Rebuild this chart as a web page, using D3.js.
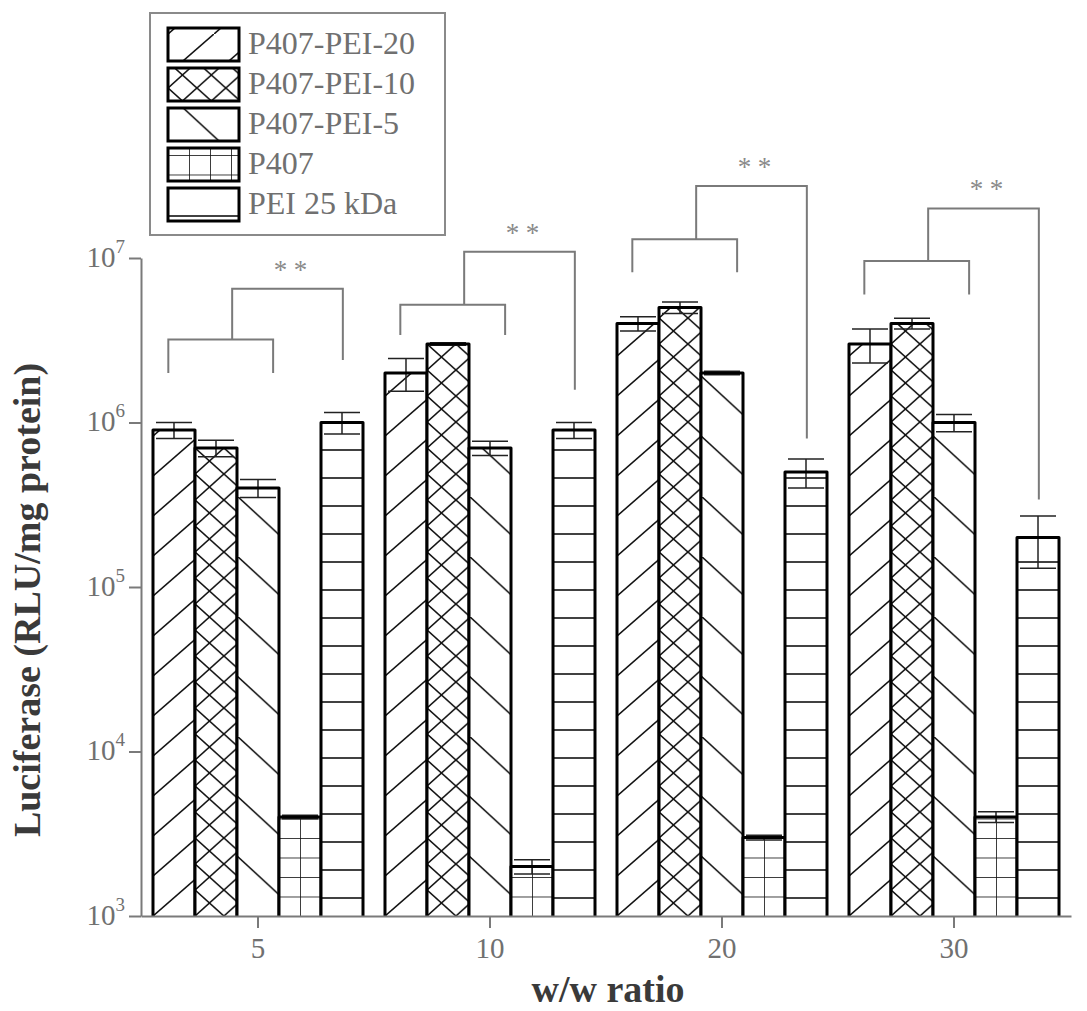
<!DOCTYPE html>
<html>
<head>
<meta charset="utf-8">
<script src="https://cdn.jsdelivr.net/npm/d3@7"></script>
<style>
  body { margin: 0; background: #fff; }
  text { font-family: "Liberation Serif", "Times New Roman", serif; }
</style>
</head>
<body>
<div id="chart"></div>
<script>
// w/w ratio groups and the five formulations
const ratios = ["5", "10", "20", "30"];
const seriesNames = ["P407-PEI-20", "P407-PEI-10", "P407-PEI-5", "P407", "PEI 25 kDa"];

// luciferase means (RLU/mg protein) and error (SD), one value per ratio
const pei20Mean = [9e5, 2e6, 4e6, 3e6];
const pei20Err  = [1e5, 4.5e5, 4e5, 7e5];
const pei10Mean = [7e5, 3e6, 5e6, 4e6];
const pei10Err  = [8e4, 5e4, 4e5, 3e5];
const pei5Mean  = [4e5, 7e5, 2e6, 1e6];
const pei5Err   = [5e4, 7e4, 5e4, 1.2e5];
const p407Mean  = [4e3, 2e3, 3e3, 4e3];
const p407Err   = [1e2, 2e2, 1e2, 3e2];
const peiMean   = [1e6, 9e5, 5e5, 2e5];
const peiErr    = [1.5e5, 1e5, 1e5, 7e4];

// significance brackets (levels in RLU/mg protein)
const lowerBracketLevel = [3.2e6, 5.2e6, 1.3e7, 9.6e6];
const lowerBracketEnd   = [2.0e6, 3.4e6, 8.2e6, 6.0e6];
const upperBracketLevel = [6.5e6, 1.09e7, 2.74e7, 2.0e7];
const upperBracketEnd   = [2.4e6, 1.58e6, 8.0e5, 3.4e5];
const sigLabel = "**";

const yTicks = [1e3, 1e4, 1e5, 1e6, 1e7];

const series = [
  {name: seriesNames[0], mean: pei20Mean, err: pei20Err},
  {name: seriesNames[1], mean: pei10Mean, err: pei10Err},
  {name: seriesNames[2], mean: pei5Mean,  err: pei5Err},
  {name: seriesNames[3], mean: p407Mean,  err: p407Err},
  {name: seriesNames[4], mean: peiMean,   err: peiErr}
];

const W = 1087, H = 1011;
const grey = "#7a7a7a";
const textGrey = "#707070";

const svg = d3.select("#chart").append("svg")
  .attr("width", W)
  .attr("height", H);

// scales
const x0 = d3.scaleBand()
  .domain(ratios)
  .range([141, 1071])
  .paddingInner(0.0948)
  .paddingOuter(0.0517);

const x1 = d3.scaleBand()
  .domain(seriesNames)
  .range([0, x0.bandwidth()]);

const y = d3.scaleLog()
  .domain([1e3, 1e7])
  .range([916, 258]);

const base = y(1e3);

// hatch patterns, anchored at each bar's bottom-left corner
const defs = svg.append("defs");

function diagPattern(id, vSpace, slope, dir, cross) {
  const w = vSpace / slope;
  const p = defs.append("pattern")
    .attr("id", id)
    .attr("patternUnits", "userSpaceOnUse")
    .attr("width", w)
    .attr("height", vSpace);
  const lines = [];
  if (dir === "up" || cross) lines.push([[-w, 2 * vSpace], [2 * w, -vSpace]]);
  if (dir === "down" || cross) lines.push([[-w, -vSpace], [2 * w, 2 * vSpace]]);
  lines.forEach(l => {
    p.append("line")
      .attr("x1", l[0][0]).attr("y1", l[0][1])
      .attr("x2", l[1][0]).attr("y2", l[1][1])
      .attr("stroke", "#111").attr("stroke-width", 1.6);
  });
}

diagPattern("pat0", 40, 0.87, "up", false);
diagPattern("pat1", 26, 0.9, "up", true);
diagPattern("pat2", 60, 0.92, "down", false);

// P407 grid
const grid = defs.append("pattern")
  .attr("id", "pat3")
  .attr("patternUnits", "userSpaceOnUse")
  .attr("width", x1.bandwidth() / 2)
  .attr("height", 19.5);
grid.append("line").attr("x1", 0).attr("x2", 0).attr("y1", 0).attr("y2", 19.5)
  .attr("stroke", "#111").attr("stroke-width", 1.6);
grid.append("line").attr("x1", 0).attr("x2", x1.bandwidth() / 2).attr("y1", 0).attr("y2", 0)
  .attr("stroke", "#111").attr("stroke-width", 1.6);

// PEI horizontal lines
const horiz = defs.append("pattern")
  .attr("id", "pat4")
  .attr("patternUnits", "userSpaceOnUse")
  .attr("width", 20)
  .attr("height", 28);
horiz.append("line").attr("x1", 0).attr("x2", 20).attr("y1", 10).attr("y2", 10)
  .attr("stroke", "#111").attr("stroke-width", 1.6);

// bars
const barGroups = svg.append("g").selectAll("g.ratio")
  .data(ratios)
  .enter().append("g")
  .attr("class", "ratio");

barGroups.each(function(r, gi) {
  const g = d3.select(this);
  series.forEach((s, si) => {
    const v = s.mean[gi];
    const e = s.err[gi];
    const bw = x1.bandwidth();
    const top = y(v) - base;
    const bar = g.append("g")
      .attr("transform", "translate(" + (x0(r) + x1(s.name)) + "," + base + ")");
    bar.append("rect")
      .attr("x", 0).attr("y", top)
      .attr("width", bw).attr("height", -top)
      .attr("fill", "#fff");
    bar.append("rect")
      .attr("x", 0).attr("y", top)
      .attr("width", bw).attr("height", -top)
      .attr("fill", "url(#pat" + si + ")");

    // error bar
    const cx = bw / 2;
    const yHi = y(v + e) - base, yLo = y(v - e) - base;
    bar.append("line")
      .attr("x1", cx).attr("x2", cx).attr("y1", yLo).attr("y2", yHi)
      .attr("stroke", "#222").attr("stroke-width", 1.5);
    [yHi, yLo].forEach(yy => {
      bar.append("line")
        .attr("x1", cx - 18).attr("x2", cx + 18).attr("y1", yy).attr("y2", yy)
        .attr("stroke", "#222").attr("stroke-width", 1.5);
    });

    bar.append("path")
      .attr("d", "M0,0V" + top + "H" + bw + "V0")
      .attr("fill", "none")
      .attr("stroke", "#000")
      .attr("stroke-width", 3)
      .attr("stroke-linejoin", "round");
  });
});

// axes
const yAxis = svg.append("g")
  .attr("transform", "translate(141,0)")
  .call(d3.axisLeft(y).tickValues(yTicks).tickFormat("").tickSize(12).tickSizeOuter(0));

const xAxis = svg.append("g")
  .attr("transform", "translate(0," + base + ")")
  .call(d3.axisBottom(x0).tickSize(12).tickSizeOuter(0));

[yAxis, xAxis].forEach(ax => {
  ax.selectAll("path, line").attr("stroke", grey).attr("stroke-width", 2);
});

xAxis.selectAll("text")
  .attr("dy", null)
  .attr("y", 42)
  .attr("fill", textGrey)
  .style("font-size", "29px")
  .style("font-family", "Liberation Serif");

yAxis.selectAll(".tick").each(function(d) {
  const t = d3.select(this).append("text")
    .attr("x", -16)
    .attr("y", 8)
    .attr("text-anchor", "end")
    .attr("fill", textGrey)
    .style("font-size", "29px");
  t.append("tspan").text("10");
  t.append("tspan")
    .attr("dy", -14)
    .style("font-size", "19px")
    .text(Math.round(Math.log10(d)));
});

// axis titles
svg.append("text")
  .attr("transform", "translate(40,600) rotate(-90)")
  .attr("text-anchor", "middle")
  .attr("fill", "#3a3a3a")
  .style("font-size", "38px")
  .style("font-weight", "bold")
  .text("Luciferase (RLU/mg protein)");

svg.append("text")
  .attr("x", 608)
  .attr("y", 1002)
  .attr("text-anchor", "middle")
  .attr("fill", "#3a3a3a")
  .style("font-size", "38px")
  .style("font-weight", "bold")
  .text("w/w ratio");

// significance brackets
const brk = svg.append("g")
  .attr("fill", "none")
  .attr("stroke", grey)
  .attr("stroke-width", 2);

ratios.forEach((r, gi) => {
  const bx = f => x0(r) + f * x0.bandwidth();
  const lo = y(lowerBracketLevel[gi]);
  const loEnd = y(lowerBracketEnd[gi]);
  const up = y(upperBracketLevel[gi]);
  const upEnd = y(upperBracketEnd[gi]);
  brk.append("path")
    .attr("d", "M" + bx(0.073) + "," + loEnd + "V" + lo + "H" + bx(0.572) + "V" + loEnd);
  brk.append("path")
    .attr("d", "M" + bx(0.377) + "," + lo + "V" + up + "H" + bx(0.904) + "V" + upEnd);
  sigLabel.split("").forEach((c, ci) => {
    svg.append("text")
      .attr("x", bx(0.655) + (ci === 0 ? -10 : 10))
      .attr("y", up - 10)
      .attr("text-anchor", "middle")
      .attr("fill", "#8a8a8a")
      .style("font-size", "27px")
      .text(c);
  });
});

// legend
const legend = svg.append("g");
legend.append("rect")
  .attr("x", 150).attr("y", 13)
  .attr("width", 295).attr("height", 222)
  .attr("fill", "#fff")
  .attr("stroke", "#8a8a8a")
  .attr("stroke-width", 2);

seriesNames.forEach((name, i) => {
  const row = legend.append("g")
    .attr("transform", "translate(168," + (74 + 40 * i) + ")");
  row.append("rect")
    .attr("x", 0).attr("y", -46)
    .attr("width", 71).attr("height", 33)
    .attr("fill", "url(#pat" + i + ")")
    .attr("stroke", "#000")
    .attr("stroke-width", 3);
  row.append("text")
    .attr("x", 80)
    .attr("y", -20)
    .attr("fill", textGrey)
    .style("font-size", "32px")
    .text(name);
});
</script>
</body>
</html>
